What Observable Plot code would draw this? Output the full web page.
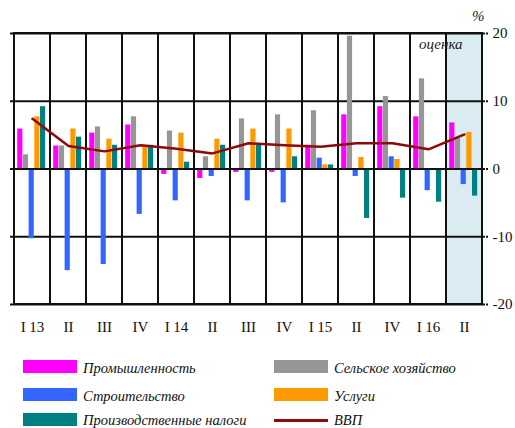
<!DOCTYPE html>
<html>
<head>
<meta charset="utf-8">
<script src="https://cdn.jsdelivr.net/npm/d3@7"></script>
<script src="https://cdn.jsdelivr.net/npm/@observablehq/plot@0.6"></script>
<style>
  body { margin: 0; background: #fff; }
  #wrap { position: relative; width: 515px; height: 428px; overflow: hidden; font-family: "Liberation Serif", "Times New Roman", serif; }
  .sw { position: absolute; width: 54px; height: 13px; }
  .lt { position: absolute; font-style: italic; font-size: 14.5px; line-height: 14px; color: #111; white-space: nowrap; }
  .note { position: absolute; font-style: italic; font-size: 15px; color: #222; }
</style>
</head>
<body>
<div id="wrap"></div>
<script>
const quarters = ["I 13","II","III","IV","I 14","II","III","IV","I 15","II","IV","I 16","II"];
const seriesNames = ["Промышленность","Сельское хозяйство","Строительство","Услуги","Производственные налоги"];
const industry     = [5.9, 3.4, 5.3, 6.5, -0.8, -1.4, -0.5, -0.5, 3.5, 8.0, 9.2, 7.7, 6.8];
const agriculture  = [2.1, 3.4, 6.2, 7.7, 5.6, 1.8, 7.4, 8.0, 8.6, 19.6, 10.7, 13.3, 4.5];
const construction = [-10.3, -15.0, -14.1, -6.7, -4.7, -1.1, -4.7, -5.0, 1.6, -1.1, 1.8, -3.2, -2.3];
const services     = [7.7, 5.9, 4.4, 3.5, 5.3, 4.4, 5.9, 5.9, 0.6, 1.7, 1.4, 0, 5.4];
const taxes        = [9.2, 4.7, 3.5, 3.5, 1.0, 3.5, 3.5, 1.8, 0.6, -7.3, -4.3, -4.9, -4.0];
const gdp          = [7.4, 3.4, 2.6, 3.5, 3.0, 2.3, 3.8, 3.5, 3.3, 3.8, 3.8, 2.9, 5.1];
const yTicks = [-20, -10, 0, 10, 20];
const estimateIndex = 12;

const colors = ["#ff00ff", "#969696", "#3366ff", "#ff9900", "#008080"];
const gdpColor = "#8b0a0a";
const seriesValues = [industry, agriculture, construction, services, taxes];

const idx = quarters.map((_, i) => i);
const W = 515, H = 345, mL = 10, mR = 30, mT = 33, mB = 41;
const bw = (W - mL - mR) / quarters.length;
const barW = bw * 0.156, lead = bw * 0.088;

const barMarks = seriesValues.map((vals, s) => {
  const L = lead + s * barW;
  const R = bw - L - barW;
  return Plot.barY(idx, {x: d => d, y: d => vals[d], fill: colors[s], insetLeft: L, insetRight: R});
});

const chart = Plot.plot({
  width: W, height: H,
  marginLeft: mL, marginRight: mR, marginTop: mT, marginBottom: mB,
  style: {fontFamily: '"Liberation Serif", "Times New Roman", serif', background: "transparent"},
  x: {type: "band", domain: idx, padding: 0, axis: null},
  y: {domain: [-20, 20], axis: null},
  marks: [
    Plot.barY([estimateIndex], {x: d => d, y1: -20, y2: 20, fill: "#daebf1"}),
    Plot.ruleY(yTicks.filter(t => t !== 0), {stroke: "#111", strokeWidth: 2}),
    Plot.barY(idx, {x: d => d, y1: -20, y2: 20, fill: "none", stroke: "#111", strokeWidth: 2}),
    ...barMarks,
    Plot.ruleY([0], {stroke: "#111", strokeWidth: 2}),
    Plot.lineY(idx, {x: d => d, y: d => gdp[d], stroke: gdpColor, strokeWidth: 2.5}),
    Plot.axisY({anchor: "right", ticks: yTicks, tickFormat: d => String(d), tickSize: 2, tickPadding: 5, fontSize: 15, stroke: "#111", strokeWidth: 2}),
    Plot.axisX({anchor: "bottom", tickFormat: i => quarters[i], tickSize: 0, tickPadding: 17, fontSize: 15})
  ]
});
chart.style.position = "absolute";
chart.style.left = "0px";
chart.style.top = "0px";
chart.querySelectorAll("text").forEach(t => t.setAttribute("fill", "#111"));
const wrap = document.getElementById("wrap");
wrap.appendChild(chart);

function addNote(text, left, top) {
  const d = document.createElement("div");
  d.className = "note";
  d.textContent = text;
  d.style.left = left + "px";
  d.style.top = top + "px";
  wrap.appendChild(d);
}
addNote("%", 472, 8);
addNote("оценка", 419, 36);

const legendItems = [
  {name: seriesNames[0], color: colors[0], col: 0, row: 0},
  {name: seriesNames[1], color: colors[1], col: 1, row: 0},
  {name: seriesNames[2], color: colors[2], col: 0, row: 1},
  {name: seriesNames[3], color: colors[3], col: 1, row: 1},
  {name: seriesNames[4], color: colors[4], col: 0, row: 2},
  {name: "ВВП", color: gdpColor, col: 1, row: 2, line: true}
];
const colX = [23, 274], rowY = [360, 388, 413];
legendItems.forEach(it => {
  const sw = document.createElement("div");
  sw.className = "sw";
  sw.style.left = colX[it.col] + "px";
  if (it.line) {
    sw.style.top = (rowY[it.row] + 6) + "px";
    sw.style.height = "3px";
  } else {
    sw.style.top = rowY[it.row] + "px";
  }
  sw.style.background = it.color;
  wrap.appendChild(sw);
  const t = document.createElement("div");
  t.className = "lt";
  t.textContent = it.name;
  t.style.left = (colX[it.col] + 60) + "px";
  t.style.top = (rowY[it.row] + (it.row === 2 ? 0 : 1)) + "px";
  wrap.appendChild(t);
});
</script>
</body>
</html>
